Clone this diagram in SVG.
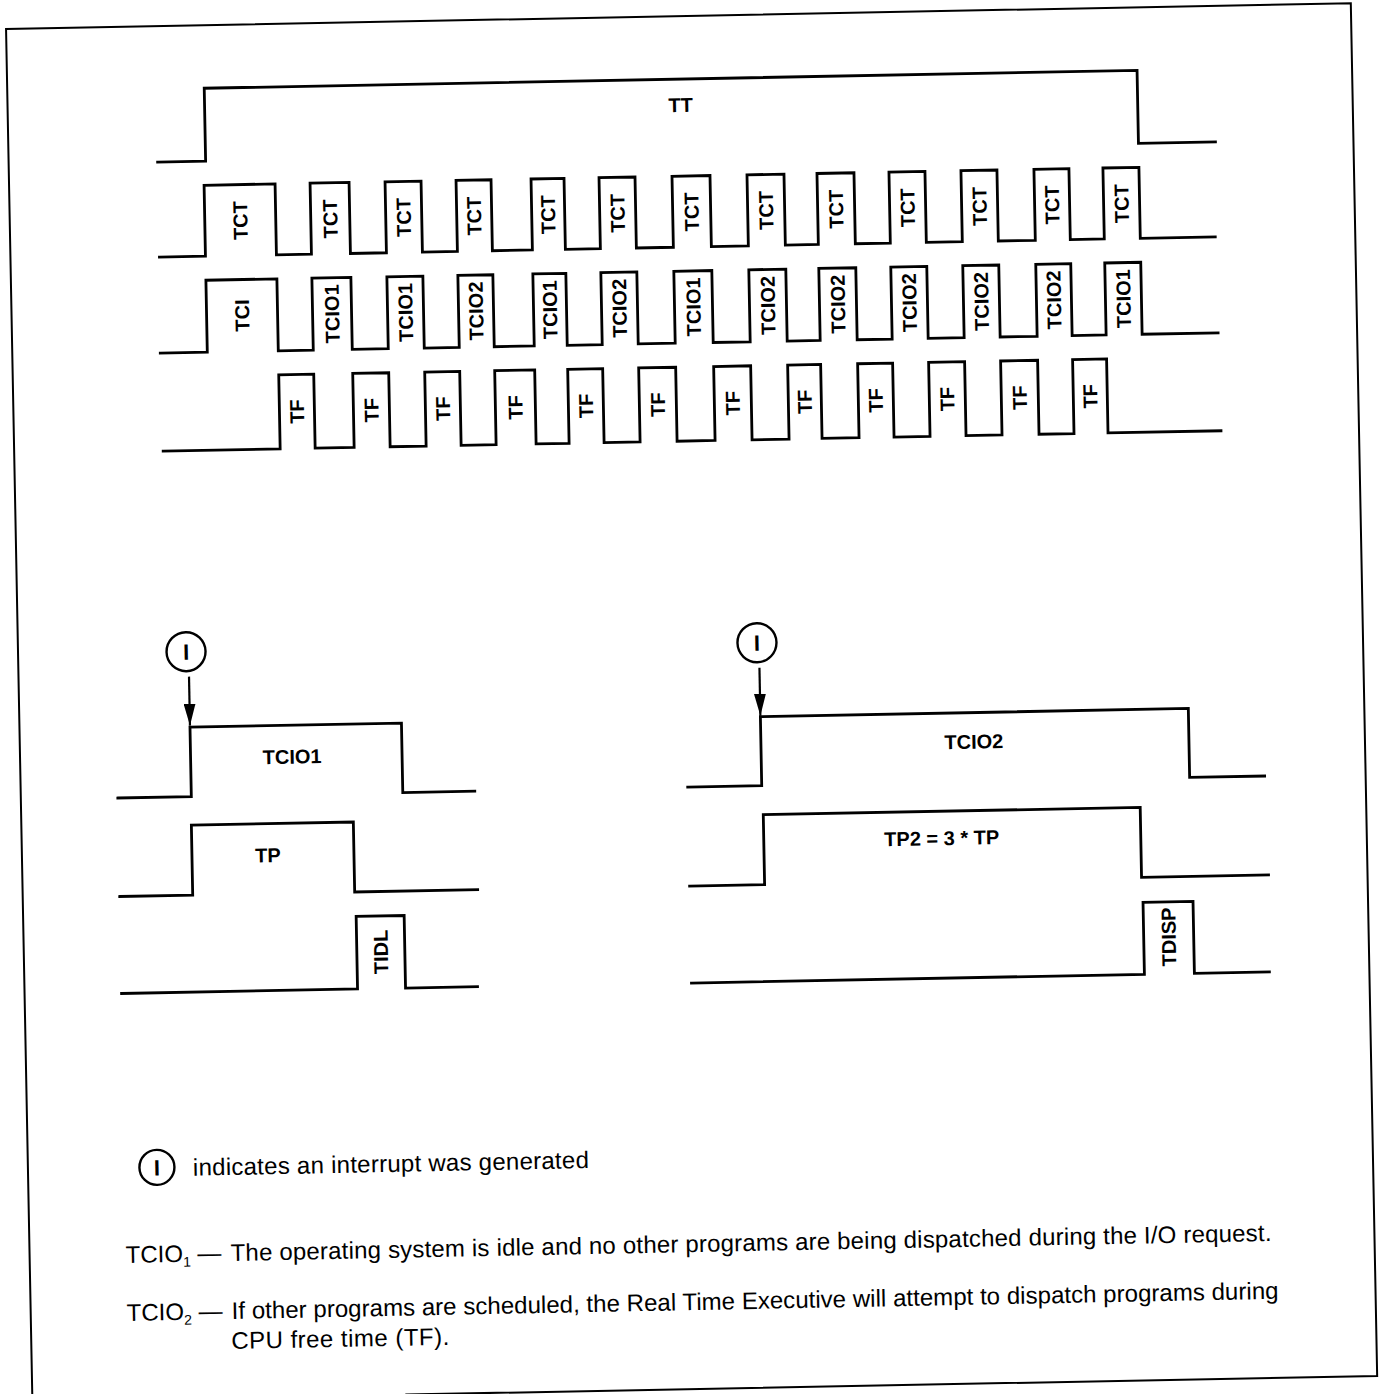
<svg xmlns="http://www.w3.org/2000/svg" width="1383" height="1394" viewBox="0 0 1383 1394">
<style>
.w{fill:none;stroke:#000;stroke-width:2.8;stroke-linejoin:miter;stroke-linecap:square}
.b{font-family:"Liberation Sans",Arial,sans-serif;font-weight:bold;font-size:20px;fill:#000;text-anchor:middle}
.t{font-family:"Liberation Sans",Arial,sans-serif;font-size:24px;fill:#000}
.c{fill:none;stroke:#000;stroke-width:2.4}
.ci{font-family:"Liberation Sans",Arial,sans-serif;font-weight:bold;font-size:22px;fill:#000;text-anchor:middle}
.a{stroke:#000;stroke-width:2.2;fill:none}
</style>
<defs>
<marker id="ah" markerUnits="userSpaceOnUse" markerWidth="22" markerHeight="12" viewBox="0 0 22 12" refX="22" refY="6" orient="auto">
<path d="M0,0 L22,6 L0,12 z" fill="#000"/>
</marker>
</defs>
<rect width="1383" height="1394" fill="#fff"/>
<g transform="rotate(-1.1 691 697)">
<path id="border" d="M19,1400 V16 H1364 V1389 H392" fill="none" stroke="#000" stroke-width="2"/>

<g id="tt">
<path class="w" d="M168,152 H216 V79 H1149 V152 H1226"/>
<text class="b" x="692" y="112">TT</text>
</g>

<g id="tct">
<path class="w" d="M168,247 H214 V176 H285 V247 H320 V176 H359 V247 H395 V176 H431 V247 H466 V176 H501 V247 H541 V176 H574 V247 H609 V176 H645 V247 H682 V176 H720 V247 H757 V176 H794 V247 H827 V176 H864 V247 H899 V176 H935 V247 H971 V176 H1007 V247 H1044 V176 H1079 V247 H1113 V176 H1149 V247 H1224"/>
<g class="b">
<text transform="translate(249.5,212) rotate(-90)" y="7">TCT</text>
<text transform="translate(339.5,212) rotate(-90)" y="7">TCT</text>
<text transform="translate(413,212) rotate(-90)" y="7">TCT</text>
<text transform="translate(483.5,212) rotate(-90)" y="7">TCT</text>
<text transform="translate(557.5,212) rotate(-90)" y="7">TCT</text>
<text transform="translate(627,212) rotate(-90)" y="7">TCT</text>
<text transform="translate(701,212) rotate(-90)" y="7">TCT</text>
<text transform="translate(775.5,212) rotate(-90)" y="7">TCT</text>
<text transform="translate(845.5,212) rotate(-90)" y="7">TCT</text>
<text transform="translate(917,212) rotate(-90)" y="7">TCT</text>
<text transform="translate(989,212) rotate(-90)" y="7">TCT</text>
<text transform="translate(1061.5,212) rotate(-90)" y="7">TCT</text>
<text transform="translate(1131,212) rotate(-90)" y="7">TCT</text>
</g>
</g>

<g id="tcio">
<path class="w" d="M167,343 H214 V271 H285 V343 H320 V271 H359 V343 H395 V271 H431 V343 H466 V271 H501 V343 H541 V271 H574 V343 H609 V271 H645 V343 H682 V271 H720 V343 H757 V271 H794 V343 H827 V271 H864 V343 H899 V271 H935 V343 H971 V271 H1007 V343 H1044 V271 H1079 V343 H1113 V271 H1149 V343 H1225"/>
<g class="b">
<text transform="translate(249.5,307) rotate(-90)" y="7">TCI</text>
<text transform="translate(339.5,307) rotate(-90)" y="7">TCIO1</text>
<text transform="translate(413,307) rotate(-90)" y="7">TCIO1</text>
<text transform="translate(483.5,307) rotate(-90)" y="7">TCIO2</text>
<text transform="translate(557.5,307) rotate(-90)" y="7">TCIO1</text>
<text transform="translate(627,307) rotate(-90)" y="7">TCIO2</text>
<text transform="translate(701,307) rotate(-90)" y="7">TCIO1</text>
<text transform="translate(775.5,307) rotate(-90)" y="7">TCIO2</text>
<text transform="translate(845.5,307) rotate(-90)" y="7">TCIO2</text>
<text transform="translate(917,307) rotate(-90)" y="7">TCIO2</text>
<text transform="translate(989,307) rotate(-90)" y="7">TCIO2</text>
<text transform="translate(1061.5,307) rotate(-90)" y="7">TCIO2</text>
<text transform="translate(1131,307) rotate(-90)" y="7">TCIO1</text>
</g>
</g>

<g id="tf">
<path class="w" d="M168,441 H285 V367 H320 V441 H359 V367 H395 V441 H431 V367 H466 V441 H501 V367 H541 V441 H574 V367 H609 V441 H645 V367 H682 V441 H720 V367 H757 V441 H794 V367 H827 V441 H864 V367 H899 V441 H935 V367 H971 V441 H1007 V367 H1044 V441 H1079 V367 H1113 V441 H1226"/>
<g class="b">
<text transform="translate(302.5,404) rotate(-90)" y="7">TF</text>
<text transform="translate(377,404) rotate(-90)" y="7">TF</text>
<text transform="translate(448.5,404) rotate(-90)" y="7">TF</text>
<text transform="translate(521,404) rotate(-90)" y="7">TF</text>
<text transform="translate(591.5,404) rotate(-90)" y="7">TF</text>
<text transform="translate(663.5,404) rotate(-90)" y="7">TF</text>
<text transform="translate(738.5,404) rotate(-90)" y="7">TF</text>
<text transform="translate(810.5,404) rotate(-90)" y="7">TF</text>
<text transform="translate(881.5,404) rotate(-90)" y="7">TF</text>
<text transform="translate(953,404) rotate(-90)" y="7">TF</text>
<text transform="translate(1025.5,404) rotate(-90)" y="7">TF</text>
<text transform="translate(1096,404) rotate(-90)" y="7">TF</text>
</g>
</g>

<g id="int1">
<circle class="c" cx="187" cy="642" r="19.5"/>
<text class="ci" x="187" y="650">I</text>
</g>
<g id="tcio1">
<path class="w" d="M116,787 H189.5 V717.5 H401 V787 H473"/>
<text class="b" x="291" y="756">TCIO1</text>
</g>
<g id="tp">
<path class="w" d="M116,885.5 H189 V815.5 H351 V885.5 H474"/>
<text class="b" x="265" y="854">TP</text>
</g>
<g id="tidl">
<path class="w" d="M116,982.5 H352 V910 H400 V982.5 H472"/>
<text class="b" transform="translate(376,946) rotate(-90)" y="7">TIDL</text>
</g>

<g id="int2">
<circle class="c" cx="758" cy="644" r="19.5"/>
<text class="ci" x="758" y="652">I</text>
</g>
<g id="tcio2">
<path class="w" d="M686,787 H760 V718 H1188 V787 H1263"/>
<text class="b" x="973" y="754">TCIO2</text>
</g>
<g id="tp2">
<path class="w" d="M686,886 H761 V816 H1138 V886 H1265"/>
<text class="b" x="939" y="850">TP2 = 3 * TP</text>
</g>
<g id="tdisp">
<path class="w" d="M686,983 H1139 V911 H1189 V983 H1264"/>
<text class="b" transform="translate(1164,946) rotate(-90)" y="7">TDISP</text>
</g>

<g id="connectors">
<line class="a" x1="189.5" y1="667" x2="189.5" y2="716" marker-end="url(#ah)"/>
<line class="a" x1="760" y1="669" x2="760" y2="717" marker-end="url(#ah)"/>
</g>

<g id="legend">
<circle class="c" cx="148" cy="1157" r="17.5"/>
<text class="ci" x="148" y="1165">I</text>
<text class="t" x="184" y="1166" textLength="396">indicates an interrupt was generated</text>
<text class="t" x="115" y="1252">TCIO<tspan font-size="14" dy="5">1</tspan><tspan dy="-5"> —</tspan></text>
<text class="t" x="220" y="1252" textLength="1041">The operating system is idle and no other programs are being dispatched during the I/O request.</text>
<text class="t" x="115" y="1310">TCIO<tspan font-size="14" dy="5">2</tspan><tspan dy="-5"> —</tspan></text>
<text class="t" x="220" y="1310" textLength="1047">If other programs are scheduled, the Real Time Executive will attempt to dispatch programs during</text>
<text class="t" x="219" y="1340" textLength="218">CPU free time (TF).</text>
</g>
</g>
</svg>
